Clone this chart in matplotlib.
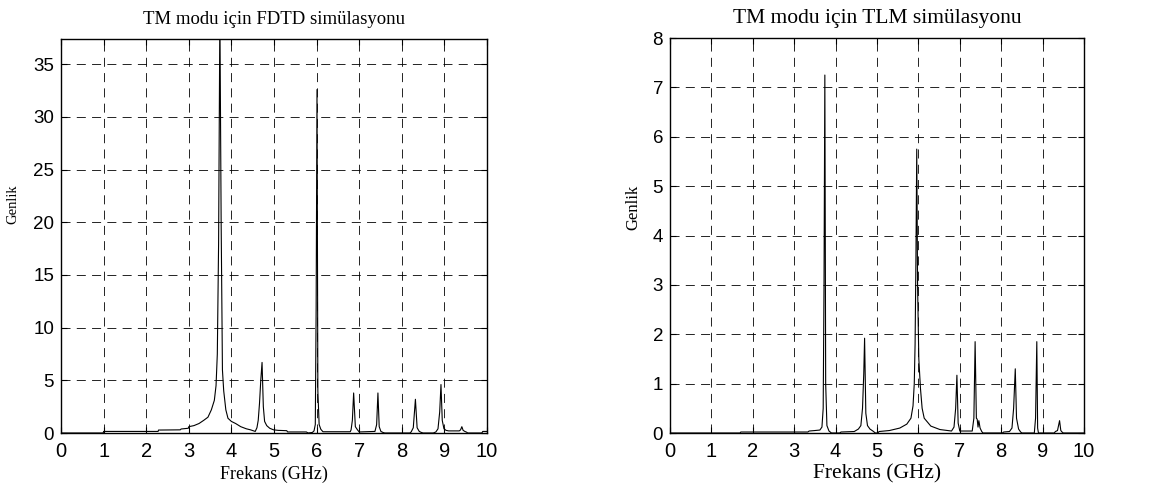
import matplotlib
matplotlib.use("Agg")
import matplotlib.pyplot as plt

plt.rcParams['lines.scale_dashes'] = False

# ---- data: FDTD spectrum (left) ----
freq_fdtd = [0, 0.99, 1.0, 2.28, 2.29, 2.8, 2.82, 2.99, 3.0, 3.12, 3.24, 3.35, 3.45, 3.53,
             3.6, 3.64, 3.67, 3.7, 3.73, 3.76, 3.79, 3.82, 3.87, 3.92, 4.0, 4.1, 4.22, 4.35,
             4.45, 4.56, 4.6, 4.63, 4.66, 4.69, 4.72, 4.75, 4.78, 4.83, 4.9, 4.99, 5.1, 5.3,
             5.32, 5.76, 5.8, 5.9, 5.94, 5.97, 5.99, 6.01, 6.03, 6.06, 6.1, 6.15, 6.79,
             6.81, 6.84, 6.87, 6.91, 6.96, 7.0, 7.37, 7.41, 7.44, 7.47, 7.51, 7.56, 7.6,
             8.19, 8.22, 8.27, 8.32, 8.36, 8.41, 8.46, 8.5, 8.74, 8.8, 8.85, 8.89, 8.92,
             8.95, 8.99, 9.04, 9.1, 9.35, 9.38, 9.41, 9.44, 9.48, 9.52, 9.55, 9.88, 9.9, 10.0]
amp_fdtd = [0, 0, 0.15, 0.15, 0.28, 0.3, 0.38, 0.45, 0.6, 0.7, 0.9, 1.2, 1.5, 2.2,
            3.1, 4.5, 7.5, 18.0, 40.0, 20.0, 6.0, 4.0, 2.2, 1.4, 1.1, 0.9, 0.6, 0.4,
            0.3, 0.15, 0.5, 1.2, 2.8, 5.0, 6.7, 2.5, 1.1, 0.7, 0.45, 0.3, 0.25, 0.22,
            0.1, 0.1, 0.0, 0.05, 0.2, 0.8, 12.0, 32.6, 4.0, 0.8, 0.35, 0.12, 0.12,
            0.3, 1.2, 3.8, 0.6, 0.3, 0.1, 0.15, 0.8, 3.8, 0.6, 0.15, 0.05, 0.0,
            0.0, 0.1, 0.5, 3.2, 0.5, 0.15, 0.05, 0.0, 0.0, 0.1, 0.4, 2.0, 4.6,
            1.2, 0.4, 0.25, 0.2, 0.2, 0.3, 0.6, 0.25, 0.15, 0.08, 0.0, 0.0, 0.15, 0.15]

# ---- data: TLM spectrum (right) ----
freq_tlm = [0, 1.69, 1.71, 3.33, 3.36, 3.5, 3.62, 3.67, 3.7, 3.72, 3.74, 3.76, 3.79, 3.84,
            3.9, 4.1, 4.13, 4.45, 4.55, 4.61, 4.65, 4.68, 4.7, 4.73, 4.77, 4.83, 4.9, 4.96,
            5.02, 5.05, 5.3, 5.55, 5.72, 5.82, 5.87, 5.9, 5.92, 5.94, 5.96, 5.98, 6.01,
            6.05, 6.09, 6.14, 6.3, 6.52, 6.8, 6.86, 6.9, 6.93, 6.96, 7.0, 7.3, 7.34, 7.37,
            7.4, 7.42, 7.44, 7.46, 7.49, 7.53, 7.56, 8.03, 8.06, 8.2, 8.26, 8.3, 8.34,
            8.37, 8.42, 8.47, 8.5, 8.8, 8.83, 8.86, 8.88, 8.9, 9.28, 9.31, 9.36, 9.41,
            9.44, 9.47, 9.5, 10.0]
amp_tlm = [0, 0, 0.02, 0.02, 0.04, 0.05, 0.06, 0.12, 0.5, 3.0, 7.25, 1.0, 0.15, 0.04,
           0.0, 0.0, 0.02, 0.03, 0.08, 0.15, 0.5, 1.2, 1.92, 0.4, 0.15, 0.08, 0.04, 0.0,
           0.0, 0.03, 0.05, 0.1, 0.18, 0.3, 0.55, 1.0, 1.8, 3.5, 5.75, 3.0, 1.5,
           0.9, 0.5, 0.3, 0.14, 0.07, 0.04, 0.12, 0.5, 1.17, 0.2, 0.04, 0.04, 0.3, 1.85,
           0.3, 0.28, 0.12, 0.25, 0.1, 0.03, 0.0, 0.0, 0.02, 0.03, 0.1, 0.5, 1.3,
           0.3, 0.08, 0.02, 0.0, 0.0, 0.3, 1.85, 0.1, 0.0, 0.0, 0.03, 0.05, 0.25,
           0.05, 0.02, 0.0, 0.0]

xticks = list(range(0, 11))
yticks_fdtd = [0, 5, 10, 15, 20, 25, 30, 35]
yticks_tlm = [0, 1, 2, 3, 4, 5, 6, 7, 8]

title_fdtd = "TM modu için FDTD simülasyonu"
title_tlm = "TM modu için TLM simülasyonu"
xlabel = "Frekans (GHz)"
ylabel = "Genlik"

serif = "Liberation Serif"
sans = "Liberation Sans"

fig = plt.figure(figsize=(11.57, 4.93), dpi=100)
ax1 = fig.add_axes([0.0527, 0.1217, 0.3682, 0.7992])
ax2 = fig.add_axes([0.5791, 0.1217, 0.3578, 0.8012])


def style(ax, yticks, ylim, xtick_fs, ytick_fs, title, title_fs, title_pad,
          xl_fs, yl_fs, xl_y, yl_x, yl_y):
    ax.set_xlim(0, 10)
    ax.set_ylim(*ylim)
    ax.set_xticks(xticks)
    ax.set_yticks(yticks)
    for lab in ax.get_xticklabels():
        lab.set_fontfamily(sans)
        lab.set_fontsize(xtick_fs)
    for lab in ax.get_yticklabels():
        lab.set_fontfamily(sans)
        lab.set_fontsize(ytick_fs)
    ax.tick_params(direction='in', length=4, width=0.8, top=True, right=True,
                   colors='black')
    ax.tick_params(axis='x', pad=6.5)
    ax.tick_params(axis='y', pad=5)
    ax.grid(True, color='black', linewidth=0.6, linestyle=(0, (6.5, 4.5)))
    for s in ax.spines.values():
        s.set_linewidth(1.0)
    ax.set_title(title, fontfamily=serif, fontsize=title_fs, pad=title_pad)
    ax.set_xlabel(xlabel, fontfamily=serif, fontsize=xl_fs)
    ax.set_ylabel(ylabel, fontfamily=serif, fontsize=yl_fs)
    ax.xaxis.set_label_coords(0.5, xl_y)
    ax.yaxis.set_label_coords(yl_x, yl_y)


ax1.plot(freq_fdtd, amp_fdtd, color='black', linewidth=0.8)
style(ax1, yticks_fdtd, (0, 37.4), 14.5, 13.5, title_fdtd, 13.5, 10.5,
      13, 10.5, -0.084, -0.098, 0.58)

ax2.plot(freq_tlm, amp_tlm, color='black', linewidth=0.8)
style(ax2, yticks_tlm, (0, 8), 14.5, 13.5, title_tlm, 15.5, 11,
      15.5, 12, -0.079, -0.068, 0.57)

fig.savefig("out.png", dpi=100)
